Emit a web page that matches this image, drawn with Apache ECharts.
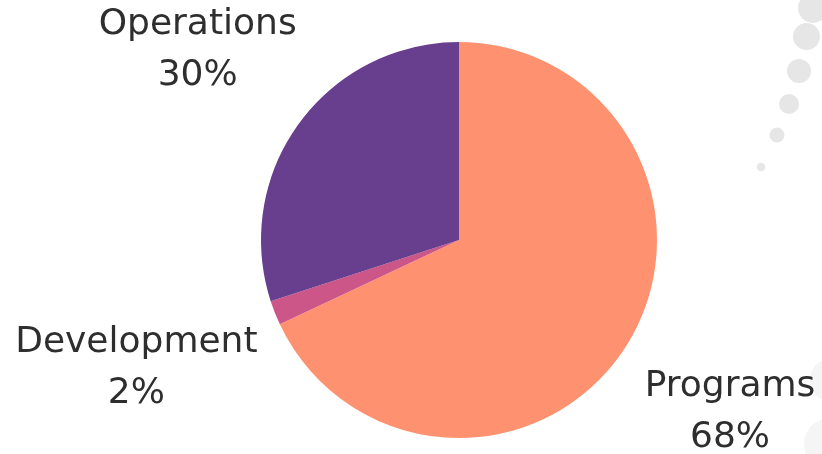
<!DOCTYPE html>
<html>
<head>
<meta charset="utf-8">
<script src="https://cdn.jsdelivr.net/npm/echarts@6/dist/echarts.min.js"></script>
<style>
html,body{margin:0;padding:0;background:#ffffff;}
#chart{width:822px;height:454px;}
</style>
</head>
<body>
<div id="chart"></div>
<script>
// Data
const categories = ['Programs', 'Development', 'Operations'];
const values = [68, 2, 30];
const colors = ['#fe9270', '#cd5689', '#683e8e'];

// Layout constants
const CX = 459, CY = 240, R = 198;
const labelDist = [321, 347, 323];

const total = values.reduce((a, b) => a + b, 0);
const midAngles = [];
let acc = 0;
values.forEach(v => { midAngles.push((acc + v / 2) / total * 2 * Math.PI); acc += v; });

const chart = echarts.init(document.getElementById('chart'), null, {renderer: 'canvas'});

const decoTop = [
  {cx: 813, cy: 8, r: 15},
  {cx: 806.5, cy: 36.5, r: 13.5},
  {cx: 799, cy: 71, r: 12},
  {cx: 789, cy: 104, r: 10},
  {cx: 777, cy: 135, r: 7.5},
  {cx: 761, cy: 167, r: 4.3}
];
const decoBottom = [
  {cx: 832, cy: 380, r: 22},
  {cx: 830, cy: 444, r: 26}
];

const graphics = [];
decoTop.forEach(c => graphics.push({type: 'circle', shape: c, style: {fill: '#e6e6e6'}, silent: true, z: -1}));
decoBottom.forEach(c => graphics.push({type: 'circle', shape: c, style: {fill: '#f5f5f5'}, silent: true, z: -1}));

chart.setOption({
  animation: false,
  backgroundColor: '#ffffff',
  graphic: graphics,
  series: [{
    type: 'pie',
    center: [CX, CY],
    radius: [0, R],
    startAngle: 90,
    clockwise: true,
    avoidLabelOverlap: false,
    data: categories.map((name, i) => ({name, value: values[i], itemStyle: {color: colors[i]}})),
    itemStyle: {borderWidth: 0},
    label: {
      show: true,
      position: 'outside',
      formatter: p => p.name + '\n' + p.value + '%',
      fontFamily: 'DejaVu Sans',
      fontWeight: 'normal',
      fontSize: 36,
      lineHeight: 51,
      color: '#2e2e2e',
      align: 'center'
    },
    labelLine: {show: false},
    labelLayout: function (p) {
      const i = p.dataIndex;
      const a = midAngles[i];
      return {
        x: CX + labelDist[i] * Math.sin(a),
        y: CY - labelDist[i] * Math.cos(a),
        align: 'center',
        verticalAlign: 'middle'
      };
    },
    emphasis: {disabled: true}
  }]
});
</script>
</body>
</html>
